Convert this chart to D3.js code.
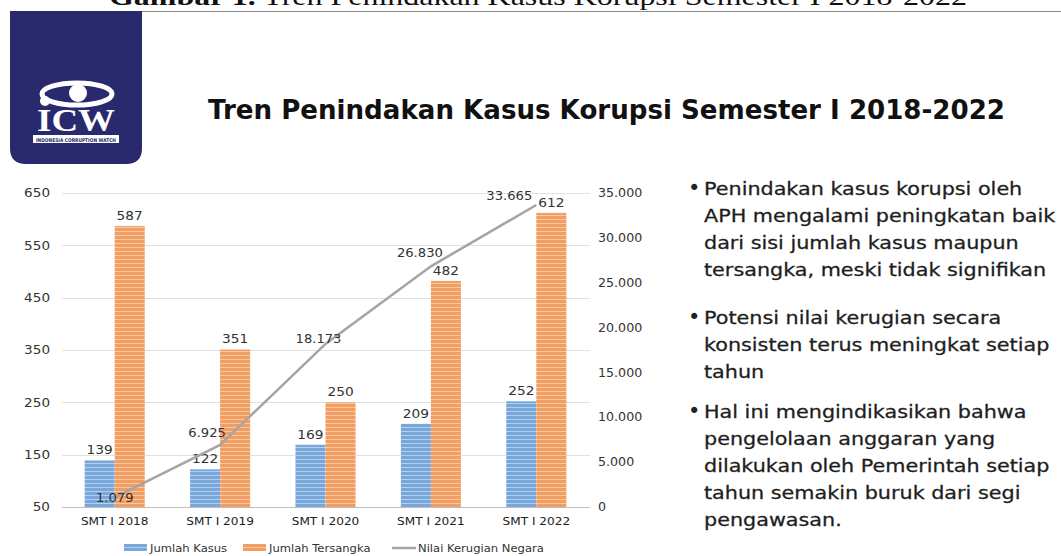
<!DOCTYPE html>
<html>
<head>
<meta charset="utf-8">
<script src="https://cdn.jsdelivr.net/npm/d3@7"></script>
<style>
  body { margin: 0; background: #fff; }
  svg { display: block; }
</style>
</head>
<body>
<div id="chart"></div>
<script>
// Data
const categories = ["SMT I 2018", "SMT I 2019", "SMT I 2020", "SMT I 2021", "SMT I 2022"];
const jumlahKasus = [139, 122, 169, 209, 252];
const jumlahTersangka = [587, 351, 250, 482, 612];
const nilaiKerugian = [1079, 6925, 18173, 26830, 33665];
const leftTicks = [50, 150, 250, 350, 450, 550, 650];
const rightTicks = [0, 5000, 10000, 15000, 20000, 25000, 30000, 35000];
const seriesNames = ["Jumlah Kasus", "Jumlah Tersangka", "Nilai Kerugian Negara"];
const bullets = [
    ["Penindakan kasus korupsi oleh", "APH mengalami peningkatan baik", "dari sisi jumlah kasus maupun", "tersangka, meski tidak signifikan"],
    ["Potensi nilai kerugian secara", "konsisten terus meningkat setiap", "tahun"],
    ["Hal ini mengindikasikan bahwa", "pengelolaan anggaran yang", "dilakukan oleh Pemerintah setiap", "tahun semakin buruk dari segi", "pengawasan."]
];

const W = 1061, H = 556;
const font = "'DejaVu Sans', sans-serif";
const svg = d3.select("#chart").append("svg")
    .attr("width", W)
    .attr("height", H)
    .style("font-family", font);

// the source font (Century Gothic) is wider than anything installed,
// so widen texts horizontally by a factor
function stretch(sel, k) {
    sel.each(function() {
        const w = this.getComputedTextLength();
        d3.select(this).attr("textLength", w * k).attr("lengthAdjust", "spacingAndGlyphs");
    });
}

// Patterns for striped bars
const defs = svg.append("defs");
function stripes(id, base, light) {
    const p = defs.append("pattern")
        .attr("id", id)
        .attr("patternUnits", "userSpaceOnUse")
        .attr("width", 6).attr("height", 4);
    p.append("rect").attr("width", 6).attr("height", 4).attr("fill", base);
    p.append("rect").attr("y", 3).attr("width", 6).attr("height", 1).attr("fill", light);
}
stripes("blueStripe", "#78A7DC", "#B3CFEE");
stripes("orangeStripe", "#F29D62", "#F9C7A2");

// Caption (cut off at the top of the page)
const cap = svg.append("text")
    .attr("x", 538).attr("y", 5)
    .attr("text-anchor", "middle")
    .attr("font-family", "'Liberation Serif', 'Times New Roman', serif")
    .attr("font-size", 25)
    .attr("textLength", 858).attr("lengthAdjust", "spacingAndGlyphs")
    .attr("fill", "#111");
cap.append("tspan").attr("font-weight", "bold").text("Gambar 1.");
cap.append("tspan").text(" Tren Penindakan Kasus Korupsi Semester I 2018-2022");

svg.append("line")
    .attr("x1", 142).attr("x2", W)
    .attr("y1", 11.5).attr("y2", 11.5)
    .attr("stroke", "#8a8a8a").attr("stroke-width", 1);

// Logo block
const lx0 = 10, lx1 = 142, ly0 = 11, ly1 = 164, r = 16;
svg.append("path")
    .attr("d", `M${lx0},${ly0} H${lx1} V${ly1 - r} Q${lx1},${ly1} ${lx1 - r},${ly1} H${lx0 + r} Q${lx0},${ly1} ${lx0},${ly1 - r} Z`)
    .attr("fill", "#29296d");
const logo = svg.append("g");
logo.append("ellipse")
    .attr("cx", 77).attr("cy", 94).attr("rx", 35).attr("ry", 11)
    .attr("fill", "none").attr("stroke", "#fff").attr("stroke-width", 5);
logo.append("circle").attr("cx", 78).attr("cy", 93).attr("r", 9).attr("fill", "#fff");
logo.append("circle").attr("cx", 45).attr("cy", 101).attr("r", 5).attr("fill", "#fff");
logo.append("text")
    .attr("x", 76).attr("y", 131)
    .attr("text-anchor", "middle")
    .attr("font-family", "'Liberation Serif', serif")
    .attr("font-weight", "bold")
    .attr("font-size", 31)
    .attr("textLength", 78).attr("lengthAdjust", "spacingAndGlyphs")
    .attr("fill", "#fff")
    .text("ICW");
logo.append("rect").attr("x", 33).attr("y", 135).attr("width", 86).attr("height", 8).attr("fill", "#fff");
logo.append("text")
    .attr("x", 76).attr("y", 141.5)
    .attr("text-anchor", "middle")
    .attr("font-size", 5).attr("font-weight", "bold")
    .attr("textLength", 80).attr("lengthAdjust", "spacingAndGlyphs")
    .attr("fill", "#29296d")
    .text("INDONESIA CORRUPTION WATCH");

// Title
svg.append("text")
    .attr("x", 208).attr("y", 119)
    .attr("font-size", 27).attr("font-weight", "bold")
    .attr("textLength", 797).attr("lengthAdjust", "spacingAndGlyphs")
    .attr("fill", "#111")
    .text("Tren Penindakan Kasus Korupsi Semester I 2018-2022");

// Chart
const plot = {left: 62, right: 589, top: 193, bottom: 507};

const x = d3.scaleBand()
    .domain(categories)
    .range([plot.left, plot.right])
    .paddingInner(0.43)
    .paddingOuter(0.215);
const xSub = d3.scaleBand()
    .domain([0, 1])
    .range([0, x.bandwidth()]);

const yLeft = d3.scaleLinear().domain([50, 650]).range([plot.bottom, plot.top]);
const yRight = d3.scaleLinear().domain([0, 35000]).range([plot.bottom, plot.top]);

const idLocale = d3.formatLocale({decimal: ",", thousands: ".", grouping: [3], currency: ["", ""]});
const fmt = idLocale.format(",d");

// Gridlines
svg.append("g")
    .selectAll("line")
    .data(leftTicks)
    .join("line")
    .attr("x1", plot.left).attr("x2", plot.right + 1)
    .attr("y1", d => Math.round(yLeft(d)) + 0.5)
    .attr("y2", d => Math.round(yLeft(d)) + 0.5)
    .attr("stroke", d => d === 50 ? "#bfbfbf" : "#e0e0e0")
    .attr("stroke-width", 1);

// Left axis
const axL = svg.append("g")
    .attr("transform", `translate(${plot.left},0)`)
    .call(d3.axisLeft(yLeft).tickValues(leftTicks).tickSize(0).tickPadding(12));
axL.select(".domain").remove();
axL.selectAll("text").attr("font-family", font).attr("font-size", 11.5).attr("fill", "#333")
    .call(stretch, 1.18);

// Right axis
const axR = svg.append("g")
    .attr("transform", `translate(${plot.right},0)`)
    .call(d3.axisRight(yRight).tickValues(rightTicks).tickFormat(fmt).tickSize(0).tickPadding(9));
axR.select(".domain").remove();
axR.selectAll("text").attr("font-family", font).attr("font-size", 11.5).attr("fill", "#333")
    .call(stretch, 1.1);

// Bottom axis labels
const axB = svg.append("g")
    .attr("transform", `translate(0,${plot.bottom})`)
    .call(d3.axisBottom(x).tickSize(0).tickPadding(10));
axB.select(".domain").remove();
axB.selectAll("text").attr("font-family", font).attr("font-size", 11).attr("fill", "#222")
    .call(stretch, 1.1);

// Bars
const barData = categories.map((c, i) => ({cat: c, vals: [jumlahKasus[i], jumlahTersangka[i]]}));
const groups = svg.append("g")
    .selectAll("g")
    .data(barData)
    .join("g")
    .attr("transform", d => `translate(${x(d.cat)},0)`);

const fills = ["url(#blueStripe)", "url(#orangeStripe)"];
groups.selectAll("rect")
    .data(d => d.vals.map((v, k) => ({k, v})))
    .join("rect")
    .attr("x", d => xSub(d.k))
    .attr("y", d => yLeft(d.v))
    .attr("width", xSub.bandwidth())
    .attr("height", d => yLeft(50) - yLeft(d.v))
    .attr("fill", d => fills[d.k]);

groups.selectAll("text")
    .data(d => d.vals.map((v, k) => ({k, v})))
    .join("text")
    .attr("x", d => xSub(d.k) + xSub.bandwidth() / 2)
    .attr("y", d => yLeft(d.v) - 6)
    .attr("text-anchor", "middle")
    .attr("font-size", 12.5)
    .attr("fill", "#333")
    .text(d => d.v)
    .call(stretch, 1.1);

// Line on right axis
const linePts = categories.map((c, i) => [x(c) + x.bandwidth() / 2, yRight(nilaiKerugian[i])]);
svg.append("path")
    .datum(linePts)
    .attr("d", d3.line())
    .attr("fill", "none")
    .attr("stroke", "#a5a5a5")
    .attr("stroke-width", 2.5);

// label nudges relative to each point (left/above, like the source)
const lineLabelShift = [[0, 5], [-13, -8], [-7, -1], [-11, -9], [-27, -5]];
svg.append("g")
    .selectAll("text")
    .data(nilaiKerugian)
    .join("text")
    .attr("x", (d, i) => linePts[i][0] + lineLabelShift[i][0])
    .attr("y", (d, i) => linePts[i][1] + lineLabelShift[i][1])
    .attr("text-anchor", "middle")
    .attr("font-size", 12.5)
    .attr("fill", "#333")
    .text(d => fmt(d))
    .call(stretch, 1.05);

// Legend
const legendX = [124, 243, 392];
const leg = svg.append("g").attr("transform", "translate(0,548)");
seriesNames.forEach((name, i) => {
    const g = leg.append("g").attr("transform", `translate(${legendX[i]},0)`);
    if (i < 2) {
        g.append("rect").attr("x", 0).attr("y", -4).attr("width", 23).attr("height", 7).attr("fill", fills[i]);
    } else {
        g.append("line").attr("x1", 0).attr("x2", 24).attr("y1", 0).attr("y2", 0)
            .attr("stroke", "#a5a5a5").attr("stroke-width", 2.5);
    }
    g.append("text")
        .attr("x", 26).attr("y", 4)
        .attr("font-size", 10.5)
        .attr("fill", "#333")
        .text(name)
        .call(stretch, 1.1);
});

// Bullet text
const bulletTop = [188, 317, 411];
const lineH = 27;
const notes = svg.append("g");
bullets.forEach((lines, b) => {
    notes.append("text")
        .attr("x", 688).attr("y", bulletTop[b] + 7)
        .attr("font-size", 21).attr("fill", "#222")
        .text("•");
    lines.forEach((t, j) => {
        notes.append("text")
            .attr("x", 704).attr("y", bulletTop[b] + j * lineH + 7)
            .attr("font-size", 18.5)
            .attr("fill", "#1e1e1e")
            .attr("stroke", "#1e1e1e").attr("stroke-width", 0.3)
            .text(t)
            .call(stretch, 1.12);
    });
});
</script>
</body>
</html>
